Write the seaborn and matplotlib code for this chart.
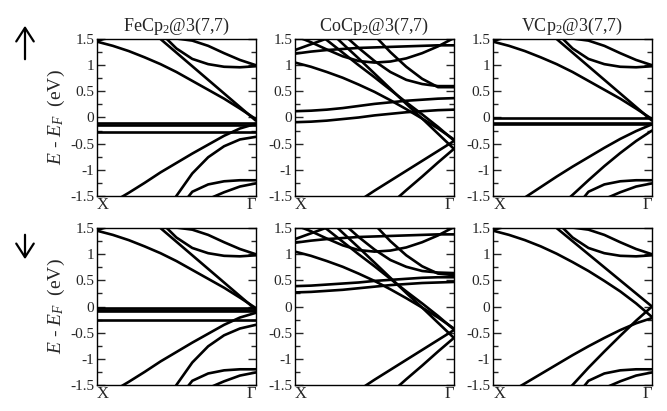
import numpy as np
import pandas as pd
import matplotlib
matplotlib.use("Agg")
import matplotlib.pyplot as plt
import seaborn as sns

nan = float("nan")

# k-path samples from X (0) to Gamma (1)
K = [0.0, 0.1, 0.2, 0.3, 0.4, 0.5, 0.6, 0.7, 0.8, 0.9, 1.0]

TITLES = ["FeCp$_2$@3(7,7)", "CoCp$_2$@3(7,7)", "VCp$_2$@3(7,7)"]
YTICKS = [-1.5, -1.0, -0.5, 0.0, 0.5, 1.0, 1.5]
YTICKLABELS = ["-1.5", "-1", "-0.5", "0", "0.5", "1", "1.5"]
XTICKLABELS = ["X", "\u0393"]

# ---------------- FeCp2 spin up ----------------
FE_UP = [
    [1.45, 1.37, 1.27, 1.15, 1.02, 0.87, 0.70, 0.53, 0.36, 0.17, -0.03],
    [1.46, 1.56, 1.66, nan, nan, nan, nan, nan, nan, nan, nan],
    [nan, nan, nan, 1.76, 1.50, 1.24, 0.98, 0.72, 0.46, 0.20, -0.06],
    [nan, nan, nan, nan, 1.62, 1.32, 1.12, 1.02, 0.97, 0.96, 0.98],
    [nan, nan, nan, nan, 1.53, 1.51, 1.47, 1.37, 1.23, 1.10, 1.00],
    [-0.11] * 11,
    [-0.14] * 11,
    [-0.28] * 11,
    [nan, -1.62, -1.44, -1.25, -1.05, -0.87, -0.69, -0.52, -0.35, -0.21, -0.12],
    [nan, nan, nan, nan, -2.00, -1.50, -1.07, -0.76, -0.55, -0.42, -0.37],
    [nan, nan, nan, nan, nan, -1.80, -1.42, -1.28, -1.22, -1.20, -1.20],
    [nan, nan, nan, nan, nan, nan, nan, -1.56, -1.43, -1.32, -1.26],
]

# ---------------- FeCp2 spin down ----------------
FE_DN = [
    [1.45, 1.37, 1.27, 1.15, 1.02, 0.87, 0.70, 0.53, 0.36, 0.17, -0.03],
    [1.46, 1.56, 1.66, nan, nan, nan, nan, nan, nan, nan, nan],
    [nan, nan, nan, 1.76, 1.50, 1.24, 0.98, 0.72, 0.46, 0.20, -0.06],
    [nan, nan, nan, nan, 1.62, 1.32, 1.12, 1.02, 0.97, 0.96, 0.98],
    [nan, nan, nan, nan, 1.53, 1.51, 1.47, 1.37, 1.23, 1.10, 1.00],
    [-0.02] * 11,
    [-0.07] * 11,
    [-0.09] * 11,
    [-0.25] * 11,
    [nan, -1.62, -1.44, -1.25, -1.05, -0.87, -0.69, -0.52, -0.35, -0.21, -0.12],
    [nan, nan, nan, nan, -2.00, -1.50, -1.07, -0.76, -0.55, -0.42, -0.35],
    [nan, nan, nan, nan, nan, -1.80, -1.42, -1.28, -1.22, -1.20, -1.20],
    [nan, nan, nan, nan, nan, nan, nan, -1.56, -1.43, -1.32, -1.26],
]

# ---------------- CoCp2 spin up ----------------
CO_UP = [
    [0.12, 0.13, 0.15, 0.18, 0.22, 0.26, 0.29, 0.32, 0.34, 0.36, 0.37],
    [-0.09, -0.08, -0.06, -0.03, 0.00, 0.04, 0.07, 0.10, 0.12, 0.14, 0.15],
    [1.05, 0.97, 0.87, 0.76, 0.63, 0.49, 0.33, 0.16, -0.02, -0.21, -0.42],
    [nan, 1.71, 1.48, 1.24, 1.00, 0.77, 0.53, 0.29, 0.06, -0.18, -0.44],
    [nan, nan, 1.70, 1.41, 1.13, 0.84, 0.55, 0.26, -0.02, -0.31, -0.60],
    [nan, nan, nan, nan, -1.60, -1.40, -1.21, -1.02, -0.83, -0.64, -0.45],
    [nan, nan, nan, nan, nan, nan, -1.66, -1.39, -1.13, -0.86, -0.60],
    [1.22, 1.26, 1.29, 1.31, 1.33, 1.34, 1.35, 1.36, 1.37, 1.38, 1.38],
    [1.29, 1.40, 1.51, 1.62, nan, nan, nan, nan, nan, nan, nan],
    [1.56, 1.44, 1.30, 1.17, 1.08, 1.05, 1.07, 1.13, 1.23, 1.36, 1.52],
    [nan, nan, nan, 1.60, 1.33, 1.08, 0.87, 0.72, 0.64, 0.60, 0.60],
    [nan, nan, nan, nan, nan, 1.57, 1.25, 0.97, 0.74, 0.58, 0.58],
]

# ---------------- CoCp2 spin down ----------------
CO_DN = [
    [0.39, 0.40, 0.42, 0.44, 0.46, 0.49, 0.51, 0.53, 0.55, 0.56, 0.56],
    [0.27, 0.28, 0.30, 0.32, 0.35, 0.38, 0.41, 0.43, 0.45, 0.46, 0.47],
    [1.05, 0.97, 0.87, 0.76, 0.63, 0.49, 0.33, 0.16, -0.02, -0.21, -0.42],
    [nan, 1.71, 1.48, 1.24, 1.00, 0.77, 0.53, 0.29, 0.06, -0.18, -0.44],
    [nan, nan, 1.70, 1.41, 1.13, 0.84, 0.55, 0.26, -0.02, -0.31, -0.60],
    [nan, nan, nan, nan, -1.60, -1.40, -1.21, -1.02, -0.83, -0.64, -0.45],
    [nan, nan, nan, nan, nan, nan, -1.66, -1.39, -1.13, -0.86, -0.60],
    [1.22, 1.26, 1.29, 1.31, 1.33, 1.34, 1.35, 1.36, 1.37, 1.38, 1.38],
    [1.29, 1.40, 1.51, 1.62, nan, nan, nan, nan, nan, nan, nan],
    [1.56, 1.44, 1.30, 1.17, 1.08, 1.05, 1.07, 1.13, 1.23, 1.36, 1.52],
    [nan, nan, nan, 1.60, 1.33, 1.09, 0.89, 0.76, 0.68, 0.65, 0.64],
    [nan, nan, nan, nan, nan, 1.57, 1.25, 0.98, 0.77, 0.63, 0.60],
]

# ---------------- VCp2 spin up ----------------
V_UP = [
    [1.45, 1.37, 1.27, 1.15, 1.02, 0.87, 0.70, 0.53, 0.36, 0.17, -0.03],
    [1.46, 1.56, 1.66, nan, nan, nan, nan, nan, nan, nan, nan],
    [nan, nan, nan, 1.76, 1.50, 1.24, 0.98, 0.72, 0.46, 0.20, -0.06],
    [nan, nan, nan, nan, 1.62, 1.32, 1.12, 1.02, 0.97, 0.96, 0.98],
    [nan, nan, nan, nan, 1.53, 1.51, 1.47, 1.37, 1.23, 1.10, 1.00],
    [-0.01] * 11,
    [-0.105] * 11,
    [-0.125] * 11,
    [nan, -1.72, -1.53, -1.33, -1.13, -0.94, -0.76, -0.58, -0.41, -0.26, -0.13],
    [nan, nan, nan, nan, -1.75, -1.48, -1.20, -0.93, -0.68, -0.45, -0.25],
    [nan, nan, nan, nan, nan, -1.80, -1.42, -1.28, -1.22, -1.20, -1.20],
    [nan, nan, nan, nan, nan, nan, nan, -1.56, -1.43, -1.32, -1.26],
]

# ---------------- VCp2 spin down ----------------
V_DN = [
    [1.45, 1.37, 1.27, 1.15, 1.01, 0.85, 0.68, 0.49, 0.29, 0.06, -0.20],
    [1.46, 1.56, 1.66, nan, nan, nan, nan, nan, nan, nan, nan],
    [nan, nan, nan, 1.76, 1.50, 1.25, 1.00, 0.75, 0.50, 0.25, 0.00],
    [nan, nan, nan, nan, 1.62, 1.32, 1.12, 1.02, 0.97, 0.96, 0.98],
    [nan, nan, nan, nan, 1.53, 1.51, 1.47, 1.37, 1.23, 1.10, 1.00],
    [nan, -1.65, -1.47, -1.29, -1.11, -0.93, -0.76, -0.60, -0.45, -0.32, -0.22],
    [nan, nan, nan, nan, -1.83, -1.50, -1.17, -0.86, -0.56, -0.27, 0.00],
    [nan, nan, nan, nan, nan, -1.80, -1.42, -1.28, -1.22, -1.20, -1.20],
    [nan, nan, nan, nan, nan, nan, nan, -1.56, -1.43, -1.32, -1.26],
]

PANELS = [[FE_UP, CO_UP, V_UP], [FE_DN, CO_DN, V_DN]]

sns.set_style("ticks")
plt.rcParams["font.family"] = ["Liberation Serif", "DejaVu Serif"]
plt.rcParams["mathtext.fontset"] = "custom"
plt.rcParams["mathtext.rm"] = "Liberation Serif"
plt.rcParams["mathtext.it"] = "Liberation Serif:italic"

fig = plt.figure(figsize=(6.67, 4.11), dpi=100)
axes = fig.subplots(2, 3)
fig.subplots_adjust(left=0.1454, right=0.9775, top=0.905, bottom=0.0633,
                    wspace=0.247, hspace=0.205)


def to_frame(bands):
    rows = []
    for b, vals in enumerate(bands):
        for k, e in zip(K, vals):
            if not np.isnan(e):
                rows.append((b, k, e))
    return pd.DataFrame(rows, columns=["band", "k", "E"])


for r in range(2):
    for c in range(3):
        ax = axes[r, c]
        df = to_frame(PANELS[r][c])
        sns.lineplot(data=df, x="k", y="E", units="band", estimator=None,
                     color="black", lw=1.9, ax=ax, legend=False, sort=False)
        ax.set_xlim(0, 1)
        ax.set_ylim(-1.5, 1.5)
        ax.set_yticks(YTICKS)
        ax.set_yticklabels(YTICKLABELS, fontsize=11)
        ax.set_yticks(np.arange(-1.25, 1.5, 0.5), minor=True)
        ax.set_xticks([0, 1])
        ax.set_xticklabels(XTICKLABELS, fontsize=12)
        ax.get_xticklabels()[0].set_ha("left")
        ax.get_xticklabels()[1].set_ha("right")
        ax.tick_params(axis="x", length=0, pad=1)
        ax.tick_params(axis="y", which="major", direction="in", left=True,
                       right=True, length=6, width=1, pad=2)
        ax.tick_params(axis="y", which="minor", direction="in", left=True,
                       right=True, length=3.5, width=1)
        ax.set_xlabel("")
        ax.set_ylabel("")
        for s in ax.spines.values():
            s.set_visible(True)
            s.set_linewidth(1.0)
            s.set_color("black")
        if r == 0:
            ax.set_title(TITLES[c], fontsize=13, pad=6)
        if c == 0:
            ax.set_ylabel("$E$ - $E_F$  (eV)", fontsize=14, labelpad=2)

# spin arrows
fig.add_artist(matplotlib.patches.FancyArrowPatch(
    (25, 411 - 62), (25, 411 - 23), transform=None,
    arrowstyle="->,head_length=0.7,head_width=0.45", mutation_scale=14,
    lw=1.6, color="black"))
fig.add_artist(matplotlib.patches.FancyArrowPatch(
    (25, 411 - 232), (25, 411 - 262), transform=None,
    arrowstyle="->,head_length=0.7,head_width=0.45", mutation_scale=14,
    lw=1.6, color="black"))

fig.savefig("out.png", dpi=100)
